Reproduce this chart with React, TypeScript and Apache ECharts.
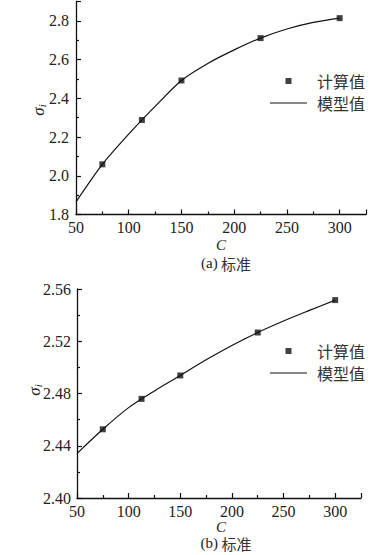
import React, { useEffect, useRef } from "react";
import * as echarts from "echarts";

// Chart (a)
const calcA: [number, number][] = [
  [75, 2.059],
  [112.5, 2.288],
  [150, 2.492],
  [225, 2.711],
  [300, 2.814],
];
const modelA: [number, number][] = [
  [50, 1.865],
  [75, 2.059],
  [100, 2.215],
  [125, 2.358],
  [150, 2.492],
  [175, 2.58],
  [200, 2.65],
  [225, 2.711],
  [250, 2.758],
  [275, 2.792],
  [300, 2.814],
];
// Chart (b)
const calcB: [number, number][] = [
  [75, 2.4526],
  [112.5, 2.4759],
  [150, 2.4938],
  [225, 2.5267],
  [300, 2.5515],
];
const modelB: [number, number][] = [
  [50, 2.434],
  [75, 2.4526],
  [100, 2.4692],
  [125, 2.482],
  [150, 2.4938],
  [175, 2.5058],
  [200, 2.5168],
  [225, 2.5267],
  [250, 2.5355],
  [275, 2.5436],
  [300, 2.5515],
];
const legendNames = ["计算值", "模型值"];
const xName = "C";
const yTicksA = { min: 1.8, max: 2.9, interval: 0.2, digits: 1 };
const yTicksB = { min: 2.4, max: 2.56, interval: 0.04, digits: 2 };
const xTicks = { min: 50, max: 325, interval: 50 };

const SERIF = "Liberation Serif";
const CJK = "Noto Sans CJK SC";

type Cfg = {
  calc: [number, number][];
  model: [number, number][];
  yt: { min: number; max: number; interval: number; digits: number };
  grid: { left: number; top: number; width: number; height: number };
  legendTop: number;
  sigmaPos: [number, number];
  namePos: [number, number];
  captionPos: [number, number];
  tag: string;
  yMargin: number;
};

function buildOption(c: Cfg) {
  return {
    animation: false,
    grid: c.grid,
    xAxis: {
      type: "value",
      min: xTicks.min,
      max: xTicks.max,
      interval: xTicks.interval,
      axisLine: { show: true, lineStyle: { color: "#111", width: 1.3 } },
      axisTick: { show: true, inside: true, length: 5, lineStyle: { color: "#111", width: 1.2 } },
      minorTick: { show: true, splitNumber: 2, length: 3, lineStyle: { color: "#111", width: 1.2 } },
      splitLine: { show: false },
      axisLabel: {
        fontFamily: SERIF,
        fontSize: 16,
        color: "#222",
        margin: 5,
        formatter: (v: number) => (v > 310 ? "" : String(v)),
      },
    },
    yAxis: {
      type: "value",
      min: c.yt.min,
      max: c.yt.max,
      interval: c.yt.interval,
      axisLine: { show: true, lineStyle: { color: "#111", width: 1.3 } },
      axisTick: { show: true, inside: true, length: 5, lineStyle: { color: "#111", width: 1.2 } },
      minorTick: { show: true, splitNumber: 2, length: 3, lineStyle: { color: "#111", width: 1.2 } },
      splitLine: { show: false },
      axisLabel: {
        fontFamily: SERIF,
        fontSize: 16,
        color: "#222",
        margin: c.yMargin,
        formatter: (v: number) => {
          const k = Math.round((v - c.yt.min) / c.yt.interval);
          const onTick = Math.abs(c.yt.min + k * c.yt.interval - v) < 1e-6;
          return onTick ? v.toFixed(c.yt.digits) : "";
        },
      },
    },
    legend: {
      orient: "vertical",
      left: 265,
      top: c.legendTop,
      itemWidth: 37,
      itemHeight: 6,
      itemGap: 6,
      selectedMode: false,
      symbolKeepAspect: true,
      textStyle: { fontSize: 16, fontFamily: CJK, color: "#333", padding: [0, 0, 0, 5] },
      data: [
        { name: legendNames[0], icon: "path://M0,0h10v10h-10z" },
        { name: legendNames[1], icon: "path://M0,0h40v1.1h-40z" },
      ],
    },
    series: [
      {
        name: legendNames[1],
        type: "line",
        data: c.model,
        smooth: 0.3,
        symbol: "none",
        lineStyle: { color: "#111", width: 1.2 },
        itemStyle: { color: "#111" },
      },
      {
        name: legendNames[0],
        type: "scatter",
        data: c.calc,
        symbol: "rect",
        symbolSize: 6,
        itemStyle: { color: "#111" },
      },
    ],
    graphic: [
      {
        type: "text",
        x: c.sigmaPos[0],
        y: c.sigmaPos[1],
        rotation: Math.PI / 2,
        style: {
          text: "{s|σ}{i|i}",
          align: "center",
          verticalAlign: "middle",
          rich: {
            s: { fontSize: 17, fontStyle: "italic", fontFamily: SERIF, fill: "#222" },
            i: { fontSize: 11, fontStyle: "italic", fontFamily: SERIF, fill: "#222", padding: [8, 0, 0, 0] },
          },
        },
      },
      {
        type: "text",
        x: c.namePos[0],
        y: c.namePos[1],
        style: {
          text: xName,
          align: "center",
          verticalAlign: "middle",
          fontSize: 15,
          fontStyle: "italic",
          fontFamily: SERIF,
          fill: "#222",
        },
      },
      {
        type: "text",
        x: c.captionPos[0],
        y: c.captionPos[1],
        style: {
          text: "{a|" + c.tag + "} {b|标准}",
          align: "center",
          verticalAlign: "middle",
          rich: {
            a: { fontSize: 15, fontFamily: SERIF, fill: "#222" },
            b: { fontSize: 15, fontFamily: CJK, fill: "#333" },
          },
        },
      },
    ],
  };
}

function Panel(props: { cfg: Cfg; top: number; height: number }) {
  const ref = useRef<HTMLDivElement>(null);
  useEffect(() => {
    if (!ref.current) return;
    const chart = echarts.init(ref.current, undefined, { renderer: "svg" });
    chart.setOption(buildOption(props.cfg) as any);
    return () => chart.dispose();
  }, []);
  return (
    <div
      ref={ref}
      style={{ position: "absolute", left: 0, top: props.top, width: 386, height: props.height }}
    />
  );
}

const cfgA: Cfg = {
  calc: calcA,
  model: modelA,
  yt: yTicksA,
  grid: { left: 76, top: 1.5, width: 290, height: 213 },
  legendTop: 68,
  sigmaPos: [38, 110],
  namePos: [221, 245],
  captionPos: [226, 263],
  tag: "(a)",
  yMargin: 7,
};
const cfgB: Cfg = {
  calc: calcB,
  model: modelB,
  yt: yTicksB,
  grid: { left: 77, top: 11, width: 284, height: 209 },
  legendTop: 60,
  sigmaPos: [34, 112],
  namePos: [221, 249],
  captionPos: [226, 265],
  tag: "(b)",
  yMargin: 6,
};

export default function App() {
  return (
    <div style={{ position: "fixed", left: 0, top: 0, width: 386, height: 555, background: "#fff" }}>
      <Panel cfg={cfgA} top={0} height={278} />
      <Panel cfg={cfgB} top={278} height={277} />
    </div>
  );
}
